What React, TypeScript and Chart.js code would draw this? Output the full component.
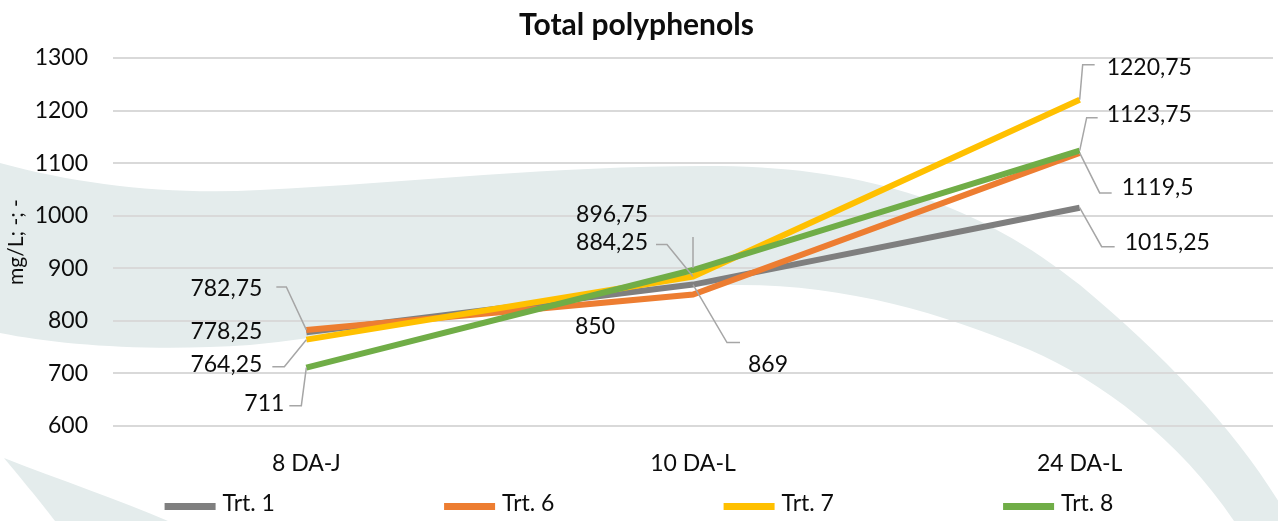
import React, { useEffect, useRef } from 'react';
import { Chart, registerables } from 'chart.js';

Chart.register(...registerables);

const categories = ['8 DA-J', '10 DA-L', '24 DA-L'];
const seriesNames = ['Trt. 1', 'Trt. 6', 'Trt. 7', 'Trt. 8'];
const trt1 = [778.25, 869, 1015.25];
const trt6 = [782.75, 850, 1119.5];
const trt7 = [764.25, 884.25, 1220.75];
const trt8 = [711, 896.75, 1123.75];
const yMin = 600;
const yMax = 1300;
const yStep = 100;

const colors = ['#7f7f7f', '#ed7d31', '#ffc000', '#70ad47'];
const FONT = 'Lato';
const TXT = '#0d0d0d';
const LEADER = '#a6a6a6';

// label placement (style only): offsets relative to each point's pixel position
type Place = { dx: number; dy: number; align: CanvasTextAlign; leader?: number[][] };
const placements: Place[][] = [
  [
    { dx: -44, dy: -1, align: 'right' },
    { dx: 55, dy: 80, align: 'left', leader: [[0, 0], [34, 58], [47, 58]] },
    { dx: 45, dy: 35, align: 'left', leader: [[0, 0], [22, 39], [35, 39]] },
  ],
  [
    { dx: -44, dy: -41, align: 'right', leader: [[0, 0], [-20, -43], [-30, -43]] },
    { dx: -118, dy: 32, align: 'left' },
    { dx: 42, dy: 35, align: 'left', leader: [[0, 0], [20, 40], [32, 40]] },
  ],
  [
    { dx: -44, dy: 25, align: 'right', leader: [[0, 0], [-22, 27], [-34, 27]] },
    { dx: -45, dy: -34, align: 'right', leader: [[0, 0], [-26, -32], [-37, -32]] },
    { dx: 27, dy: -32, align: 'left', leader: [[0, 0], [3, -35], [15, -35]] },
  ],
  [
    { dx: -22, dy: 36, align: 'right', leader: [[0, 0], [-5, 38], [-17, 38]] },
    { dx: -45, dy: -55, align: 'right', leader: [[0, -2], [0, -33]] },
    { dx: 27, dy: -36, align: 'left', leader: [[0, 0], [7, -33], [18, -33]] },
  ],
];

const fmt = (v: number) => String(v).replace('.', ',');

const backgroundPlugin = {
  id: 'bgShapes',
  beforeDraw(chart: any) {
    const { ctx, width, height } = chart;
    ctx.save();
    ctx.fillStyle = '#ffffff';
    ctx.fillRect(0, 0, width, height);
    ctx.fillStyle = '#e4ecec';
    // main sweeping band
    ctx.beginPath();
    ctx.moveTo(0, 163);
    ctx.bezierCurveTo(80, 185, 170, 195, 260, 190);
    ctx.bezierCurveTo(420, 182, 560, 165, 720, 166);
    ctx.bezierCurveTo(870, 168, 980, 205, 1080, 285);
    ctx.bezierCurveTo(1170, 360, 1245, 440, 1290, 521);
    ctx.lineTo(1234, 521);
    ctx.bezierCurveTo(1180, 440, 1100, 380, 1030, 350);
    ctx.bezierCurveTo(940, 312, 840, 283, 730, 285);
    ctx.bezierCurveTo(560, 290, 400, 330, 250, 345);
    ctx.bezierCurveTo(150, 352, 60, 345, 0, 333);
    ctx.closePath();
    ctx.fill();
    // lower-left wedge
    ctx.beginPath();
    ctx.moveTo(4, 458);
    ctx.bezierCurveTo(60, 480, 120, 500, 168, 521);
    ctx.lineTo(55, 521);
    ctx.bezierCurveTo(35, 495, 18, 475, 4, 458);
    ctx.closePath();
    ctx.fill();
    ctx.restore();
  },
};

const dataLabelPlugin = {
  id: 'leaderLabels',
  afterDatasetsDraw(chart: any) {
    const { ctx } = chart;
    ctx.save();
    chart.data.datasets.forEach((ds: any, i: number) => {
      const meta = chart.getDatasetMeta(i);
      meta.data.forEach((el: any, j: number) => {
        const p = placements[i][j];
        const px = el.x;
        const py = el.y;
        if (p.leader) {
          ctx.strokeStyle = LEADER;
          ctx.lineWidth = 1.5;
          ctx.beginPath();
          p.leader.forEach((pt, k) => {
            if (k === 0) ctx.moveTo(px + pt[0], py + pt[1]);
            else ctx.lineTo(px + pt[0], py + pt[1]);
          });
          ctx.stroke();
        }
        ctx.fillStyle = TXT;
        ctx.font = `23px ${FONT}`;
        ctx.textAlign = p.align;
        ctx.textBaseline = 'middle';
        ctx.fillText(fmt(ds.data[j]), px + p.dx, py + p.dy);
      });
    });
    ctx.restore();
  },
};

const legendPlugin = {
  id: 'spacedLegend',
  afterDraw(chart: any) {
    const { ctx, width } = chart;
    const spacing = 279.5;
    const box = 51;
    const gap = 7;
    ctx.save();
    ctx.font = `23px ${FONT}`;
    const ds = chart.data.datasets;
    const lastW = box + gap + ctx.measureText(ds[ds.length - 1].label).width;
    const groupW = spacing * (ds.length - 1) + lastW;
    let x = width / 2 - groupW / 2;
    const y = 503;
    ds.forEach((d: any) => {
      ctx.fillStyle = d.borderColor;
      ctx.fillRect(x, y, box, 7);
      ctx.fillStyle = TXT;
      ctx.textAlign = 'left';
      ctx.textBaseline = 'middle';
      ctx.fillText(d.label, x + box + gap, y + 1);
      x += spacing;
    });
    ctx.restore();
  },
};

export default function App() {
  const ref = useRef<HTMLCanvasElement | null>(null);
  useEffect(() => {
    if (!ref.current) return;
    const series = [trt1, trt6, trt7, trt8];
    const chart = new Chart(ref.current, {
      type: 'line',
      data: {
        labels: categories,
        datasets: series.map((s, i) => ({
          label: seriesNames[i],
          data: s,
          borderColor: colors[i],
          backgroundColor: colors[i],
          borderWidth: 6,
          pointRadius: 0,
          pointHoverRadius: 0,
          tension: 0,
          fill: false,
          order: series.length - 1 - i,
        })),
      },
      options: {
        animation: false,
        responsive: false,
        maintainAspectRatio: false,
        layout: { padding: { top: 0, right: 5, bottom: 45, left: 0 } },
        plugins: {
          legend: { display: false },
          tooltip: { enabled: false },
          title: {
            display: true,
            text: 'Total polyphenols',
            color: TXT,
            font: { family: FONT, size: 30, weight: 'bold' },
            padding: { top: 7, bottom: 15 },
          },
        },
        scales: {
          x: {
            type: 'category',
            offset: true,
            grid: { display: false },
            border: { display: false },
            ticks: { color: TXT, font: { family: FONT, size: 23 }, padding: 16 },
            afterFit: (scale: any) => { scale.height = 50; },
          },
          y: {
            min: yMin,
            max: yMax,
            grid: { color: '#d9d9d9', lineWidth: 2, drawTicks: false },
            border: { display: false },
            ticks: {
              stepSize: yStep,
              color: TXT,
              font: { family: FONT, size: 23 },
              padding: 25,
              callback: (v: any) => String(v),
            },
            title: {
              display: true,
              text: 'mg/L; -; -',
              color: TXT,
              font: { family: FONT, size: 21 },
              padding: { top: 4, bottom: 0 },
            },
            afterFit: (scale: any) => { scale.width = 113; },
          },
        },
      },
      plugins: [backgroundPlugin, dataLabelPlugin, legendPlugin],
    });
    return () => chart.destroy();
  }, []);
  return (
    <div style={{ position: 'fixed', left: 0, top: 0, width: 1278, height: 521, background: '#fff' }}>
      <canvas ref={ref} width={1278} height={521} style={{ display: 'block' }} />
    </div>
  );
}
